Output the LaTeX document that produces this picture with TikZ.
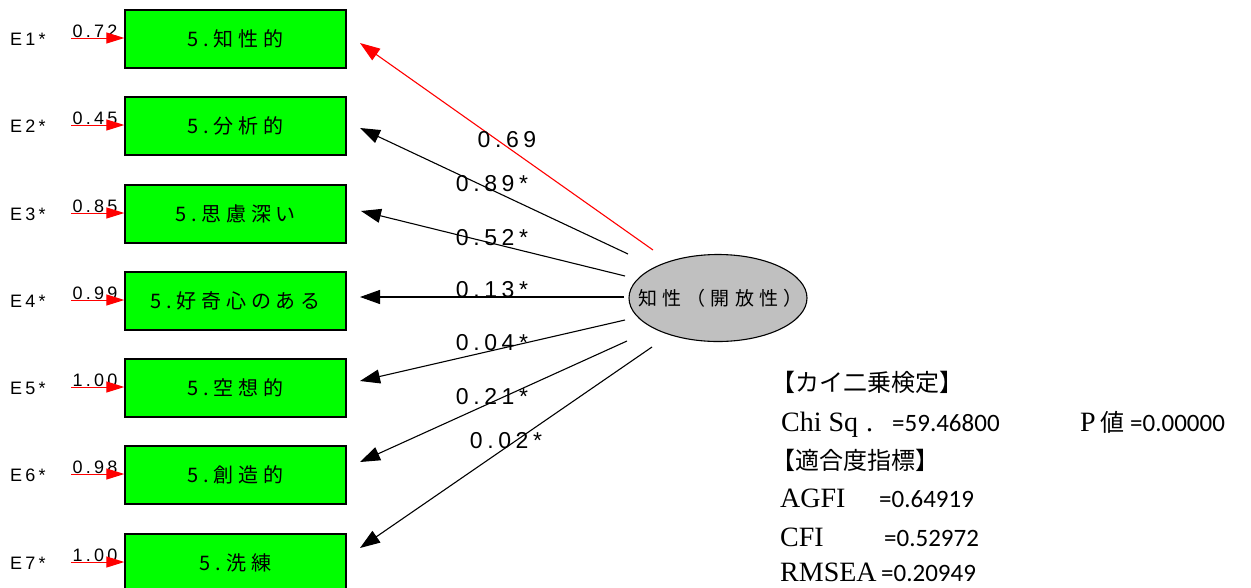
\documentclass[tikz,border=0pt]{standalone}
\usepackage{fontspec}
\usetikzlibrary{arrows.meta,shapes.geometric}
\setmainfont{Liberation Serif}
\newfontfamily\jp{Noto Sans CJK JP}
\newfontfamily\jpls{Noto Sans CJK JP}[LetterSpace=24]
\newfontfamily\jplat{Noto Sans CJK JP}[LetterSpace=28]
\newfontfamily\arls{Liberation Sans}[LetterSpace=20]
\newfontfamily\arlse{Liberation Sans}[LetterSpace=18]
\newfontfamily\carl{Carlito}
\definecolor{boxgreen}{RGB}{0,255,0}
\definecolor{latgray}{RGB}{192,192,192}
\tikzset{
  obsbox/.style={draw=black,line width=1.3pt,fill=boxgreen,minimum width=221pt,minimum height=58pt,inner sep=0pt,font=\jpls\fontsize{20}{22}\selectfont},
  elabel/.style={inner sep=0pt,font=\arlse\fontsize{18}{20}\selectfont},
  evalue/.style={inner sep=0pt,anchor=base,font=\arlse\fontsize{18}{20}\selectfont},
  errarrow/.style={draw=red,line width=1pt,-{Triangle[length=18pt,width=11pt]},fill=red},
  patharrow/.style={draw=black,line width=1.1pt,-{Triangle[length=20pt,width=14pt]}},
  redpath/.style={draw=red,line width=1.1pt,-{Triangle[length=20pt,width=14pt]}},
  pathlabel/.style={inner sep=0pt,font=\arls\fontsize{23}{25}\selectfont},
  stat/.style={inner sep=0pt,anchor=base west,font=\fontsize{28}{30}\selectfont},
  statnum/.style={inner sep=0pt,anchor=base west,font=\carl\fontsize{25}{28}\selectfont},
  statjp/.style={inner sep=0pt,anchor=base west,font=\jp\fontsize{24}{28}\selectfont},
}
\begin{document}
\begin{tikzpicture}[x=1pt,y=-1pt]
\useasboundingbox (0,0) rectangle (1251,587);
% observed boxes
\foreach \i/\y/\t in {1/39/5.知性的,2/126/5.分析的,3/214/5.思慮深い,4/301/5.好奇心のある,5/388/5.空想的,6/475/5.創造的,7/563/5.洗練}{
  \node[obsbox] (b\i) at (235.5,\y) {\t\hspace{-4pt}};
}
% error labels and arrows
\foreach \i/\y/\v in {1/39/0.72,2/126/0.45,3/214/0.85,4/301/0.99,5/388/1.00,6/475/0.98,7/563/1.00}{
  \node[elabel] (e\i) at (28,\y) {E\i*};
  \coordinate (es\i) at (71,\y-1);
  \node[evalue] (ev\i) at (95,\y-2) {\v};
  \draw[errarrow] (es\i) -- (b\i.west |- es\i);
}
% latent
\node[ellipse,draw=black,line width=1.1pt,fill=latgray,minimum width=178pt,minimum height=87pt,inner sep=0pt,font=\jplat\fontsize{19}{21}\selectfont] (lat) at (718,298) {\makebox[0pt]{知性（開放性）\hspace{-5pt}}};
% path coordinates
\coordinate (s1) at (653,250); \coordinate (t1) at (360,43);
\coordinate (s2) at (628,254); \coordinate (t2) at (360,128);
\coordinate (s3) at (625,276); \coordinate (t3) at (361,211);
\coordinate (s4) at (624,297); \coordinate (t4) at (360,297);
\coordinate (s5) at (625,320); \coordinate (t5) at (360,381);
\coordinate (s6) at (627,341); \coordinate (t6) at (360,462);
\coordinate (s7) at (652,347); \coordinate (t7) at (360,548);
\draw[redpath] (s1) -- (t1);
\foreach \i in {2,...,7}{\draw[patharrow] (s\i) -- (t\i);}
% path labels
\node[pathlabel] (p1) at (507,140) {0.69};
\node[pathlabel] (p2) at (492,184) {0.89*};
\node[pathlabel] (p3) at (492,238) {0.52*};
\node[pathlabel] (p4) at (492,290) {0.13*};
\node[pathlabel] (p5) at (492,343) {0.04*};
\node[pathlabel] (p6) at (492,397) {0.21*};
\node[pathlabel] (p7) at (506,441) {0.02*};
% statistics
\node[statjp] (st1) at (771,391) {【カイ二乗検定】};
\node[stat] (st2) at (781,431) {Chi Sq};
\node[stat] (st2d) at (866,431) {.};
\node[statnum] (st2v) at (892,431) {=59.46800};
\node[stat] (st3) at (1080,431) {P};
\node[statjp] (st3j) at (1100,431) {値};
\node[statnum] (st3v) at (1130,431) {=0.00000};
\node[statjp] (st4) at (771,469) {【適合度指標】};
\node[stat] (st5) at (780,507) {AGFI};
\node[statnum] (st5v) at (879,507) {=0.64919};
\node[stat] (st6) at (780,546) {CFI};
\node[statnum] (st6v) at (884,546) {=0.52972};
\node[stat] (st7) at (780,581) {RMSEA};
\node[statnum] (st7v) at (881,581) {=0.20949};
\end{tikzpicture}
\end{document}
